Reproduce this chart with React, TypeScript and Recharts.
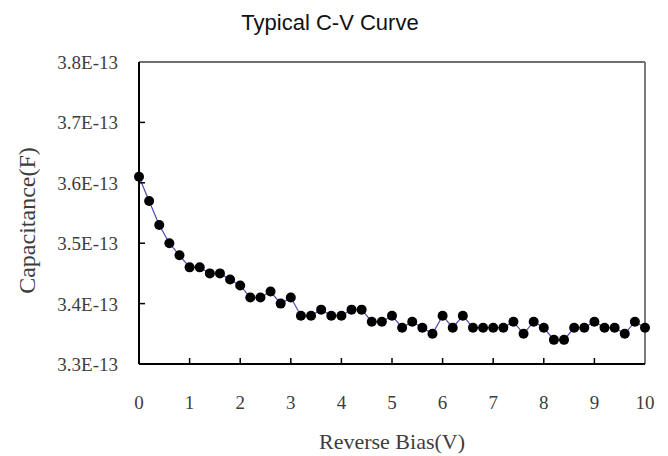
import React from 'react';
import { LineChart, Line, XAxis, YAxis, ReferenceLine } from 'recharts';

// reverse bias in volts
const voltage = [
  0, 0.2, 0.4, 0.6, 0.8, 1, 1.2, 1.4, 1.6, 1.8,
  2, 2.2, 2.4, 2.6, 2.8, 3, 3.2, 3.4, 3.6, 3.8,
  4, 4.2, 4.4, 4.6, 4.8, 5, 5.2, 5.4, 5.6, 5.8,
  6, 6.2, 6.4, 6.6, 6.8, 7, 7.2, 7.4, 7.6, 7.8,
  8, 8.2, 8.4, 8.6, 8.8, 9, 9.2, 9.4, 9.6, 9.8, 10,
];

// capacitance in units of 1E-13 F
const capacitance = [
  3.61, 3.57, 3.53, 3.5, 3.48, 3.46, 3.46, 3.45, 3.45, 3.44,
  3.43, 3.41, 3.41, 3.42, 3.4, 3.41, 3.38, 3.38, 3.39, 3.38,
  3.38, 3.39, 3.39, 3.37, 3.37, 3.38, 3.36, 3.37, 3.36, 3.35,
  3.38, 3.36, 3.38, 3.36, 3.36, 3.36, 3.36, 3.37, 3.35, 3.37,
  3.36, 3.34, 3.34, 3.36, 3.36, 3.37, 3.36, 3.36, 3.35, 3.37, 3.36,
];

const xTicks = [0, 1, 2, 3, 4, 5, 6, 7, 8, 9, 10];
const yTicks = [3.3, 3.4, 3.5, 3.6, 3.7, 3.8];

const data = voltage.map((v, i) => ({ v, c: capacitance[i] }));

const serif = "'Liberation Serif', 'Times New Roman', serif";
const labelColor = '#3d3d3d';

const YTick = (props: any) => {
  const { x, y, payload } = props;
  return (
    <g>
      {payload.value > 3.3 && payload.value < 3.8 && (
        <line x1={x} y1={y} x2={x + 6} y2={y} stroke="#000" strokeWidth={1.5} />
      )}
      <text x={x - 21} y={y} dy={7} textAnchor="end" fontFamily={serif} fontSize={19} fill={labelColor}>
        {payload.value.toFixed(1)}E-13
      </text>
    </g>
  );
};

const XTick = (props: any) => {
  const { x, y, payload } = props;
  return (
    <g>
      {payload.value > 0 && payload.value < 10 && (
        <line x1={x} y1={y} x2={x} y2={y - 6} stroke="#000" strokeWidth={1.5} />
      )}
      <text x={x} y={y + 38} dy={7} textAnchor="middle" fontFamily={serif} fontSize={19} fill={labelColor}>
        {payload.value}
      </text>
    </g>
  );
};

export default function App() {
  return (
    <div style={{ position: 'absolute', left: 0, top: 0, width: 668, height: 456, background: '#fff' }}>
      <div
        style={{
          position: 'absolute', left: 0, width: 660, top: 10, textAlign: 'center',
          fontFamily: "'Liberation Sans', Arial, sans-serif", fontSize: 22, color: '#111',
        }}
      >
        Typical C-V Curve
      </div>
      <LineChart width={668} height={456} data={data} margin={{ top: 62, right: 23, bottom: 0, left: 0 }}>
        <XAxis
          dataKey="v"
          type="number"
          domain={[0, 10]}
          ticks={xTicks}
          tick={<XTick />}
          tickLine={false}
          tickSize={0}
          tickMargin={0}
          height={92}
          axisLine={{ stroke: '#000', strokeWidth: 2 }}
        />
        <YAxis
          type="number"
          domain={[3.3, 3.8]}
          ticks={yTicks}
          tick={<YTick />}
          tickLine={false}
          tickSize={0}
          tickMargin={0}
          width={139}
          allowDataOverflow
          axisLine={{ stroke: '#000', strokeWidth: 2 }}
        />
        <ReferenceLine y={3.8} stroke="#6f6f6f" strokeWidth={2} />
        <ReferenceLine x={10} stroke="#7a7a7a" strokeWidth={2} />
        <Line
          dataKey="c"
          type="linear"
          stroke="#4a4ab8"
          strokeWidth={1.2}
          dot={{ r: 5, fill: '#000', stroke: '#000', strokeWidth: 0 }}
          isAnimationActive={false}
        />
      </LineChart>
      <div
        style={{
          position: 'absolute', left: 139, width: 506, top: 429, textAlign: 'center',
          fontFamily: serif, fontSize: 22, color: labelColor,
        }}
      >
        Reverse Bias(V)
      </div>
      <div
        style={{
          position: 'absolute', left: 27, top: 221, width: 0, height: 0,
        }}
      >
        <div
          style={{
            position: 'absolute', left: -120, top: -14, width: 240, textAlign: 'center',
            transform: 'rotate(-90deg)', fontFamily: serif, fontSize: 24, color: labelColor,
            whiteSpace: 'nowrap',
          }}
        >
          Capacitance(F)
        </div>
      </div>
    </div>
  );
}
